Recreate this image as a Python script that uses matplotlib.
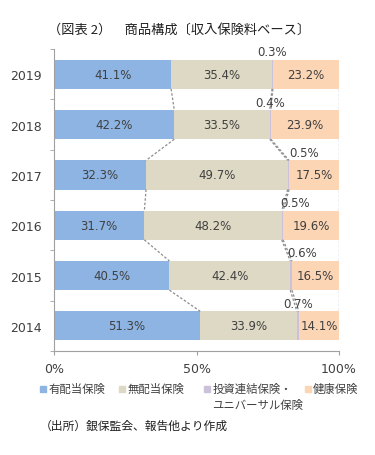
import numpy as np
import matplotlib
matplotlib.use("Agg")
import matplotlib.pyplot as plt
from matplotlib.patches import Rectangle

plt.rcParams['font.family'] = ['Noto Sans CJK JP', 'DejaVu Sans']

years = ["2019", "2018", "2017", "2016", "2015", "2014"]
series = ["有配当保険", "無配当保険", "投資連結保険・\nユニバーサル保険", "健康保険"]
participating = [41.1, 42.2, 32.3, 31.7, 40.5, 51.3]
non_participating = [35.4, 33.5, 49.7, 48.2, 42.4, 33.9]
unit_linked = [0.3, 0.4, 0.5, 0.5, 0.6, 0.7]
health = [23.2, 23.9, 17.5, 19.6, 16.5, 14.1]

colors = ["#8DB4E2", "#DDD9C4", "#CCC1DA", "#FCD5B5"]
txt_c = "#404040"
num_font = ["DejaVu Sans"]
# horizontal nudge of the small labels (percent units)
small_dx = [0, 0, 5.5, 4.5, 4, 0]

data = np.array([participating, non_participating, unit_linked, health])
ypos = np.arange(len(years))[::-1]  # 2019 at top
h = 0.58

fig = plt.figure(figsize=(3.75, 4.56), dpi=100)
ax = fig.add_axes([0.144, 0.228, 0.760, 0.662])

left = np.zeros(len(years))
for i in range(4):
    ax.barh(ypos, data[i], left=left, height=h, color=colors[i], zorder=2)
    if i != 2:
        for y, l, v in zip(ypos, left, data[i]):
            ax.text(l + v / 2, y, f"{v:.1f}%", ha="center", va="center",
                    fontsize=8.5, color=txt_c, zorder=4, family=num_font)
    else:
        for k, (y, l, v) in enumerate(zip(ypos, left, data[i])):
            ax.text(l + v / 2 + small_dx[k], y + h / 2 + 0.03, f"{v:.1f}%",
                    ha="center", va="bottom", fontsize=8.5, color=txt_c,
                    zorder=4, family=num_font)
    left = left + data[i]

# series lines between adjacent bars
cum = np.cumsum(data, axis=0)
for i in range(4):
    for k in range(len(years) - 1):
        ax.plot([cum[i, k], cum[i, k + 1]],
                [ypos[k] - h / 2, ypos[k + 1] + h / 2],
                ls=(0, (2, 1.5)), lw=0.9, color="#8C8C8C", zorder=3)

ax.set_xlim(0, 100)
ax.set_ylim(-0.5, len(years) - 0.5)
ax.set_xticks([0, 50, 100])
ax.set_xticklabels(["0%", "50%", "100%"], fontsize=9, color=txt_c,
                   family=num_font)
ax.set_yticks(ypos)
ax.set_yticklabels(years, fontsize=9, color=txt_c, family=num_font)
ax.tick_params(axis="y", length=0, pad=9)
ax.set_yticks(np.arange(-0.5, len(years), 1.0), minor=True)
ax.tick_params(axis="y", which="minor", length=3, color="#A0A0A0")
ax.tick_params(axis="x", length=3, color="#A0A0A0", pad=5)
for s in ["top", "right"]:
    ax.spines[s].set_visible(False)
for s in ["left", "bottom"]:
    ax.spines[s].set_color("#A0A0A0")

fig.text(0.128, 0.934, "（図表 2）　商品構成〔収入保険料ベース〕", fontsize=9.5,
         color="#202020", va="center")

# legend
leg_x = [0.107, 0.317, 0.544, 0.813]
leg_y = 0.145
for x, c, name in zip(leg_x, colors, series):
    fig.patches.append(Rectangle((x, leg_y - 0.007), 0.016, 0.014,
                                 transform=fig.transFigure, color=c))
    fig.text(x + 0.022, leg_y + 0.014, name, fontsize=8.2, color=txt_c,
             va="top", linespacing=1.6)

fig.text(0.105, 0.064, "（出所）銀保監会、報告他より作成", fontsize=8.5,
         color="#202020", va="center")

fig.savefig("out.png", dpi=100, facecolor="white")
